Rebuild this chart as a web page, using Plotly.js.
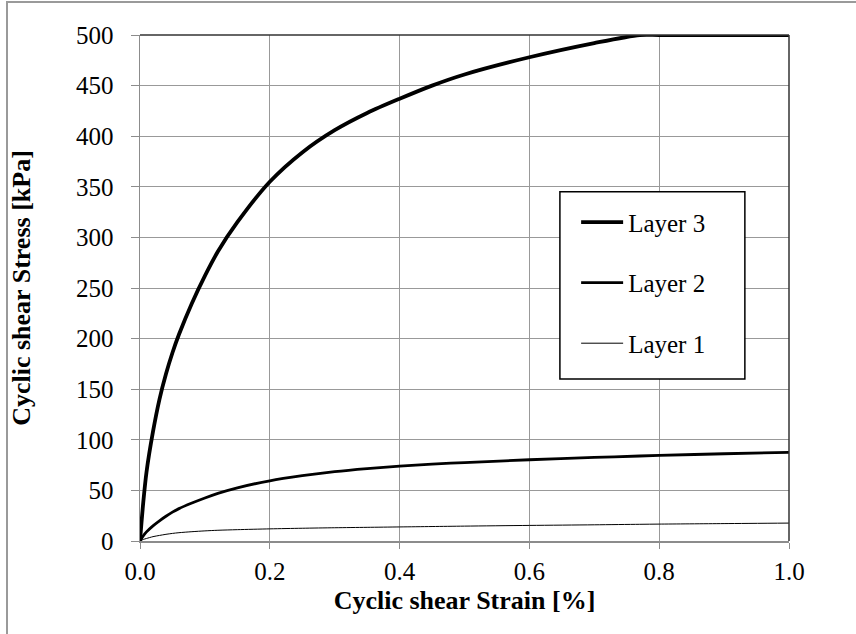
<!DOCTYPE html>
<html>
<head>
<meta charset="utf-8">
<script src="https://cdn.plot.ly/plotly-3.0.1.min.js"></script>
<style>
  html, body { margin: 0; padding: 0; background: #fff; }
  #wrap { position: relative; width: 856px; height: 634px; overflow: hidden; }
  #frame { position: absolute; left: 6px; top: 1px; width: 860px; height: 640px;
           border-left: 2px solid #9a9a9a; border-top: 2px solid #9a9a9a; box-sizing: border-box; pointer-events: none; z-index: 5; }
  #chart { position: absolute; left: 0; top: 0; width: 856px; height: 634px; }
</style>
</head>
<body>
<div id="wrap">
  <div id="chart"></div>
  <div id="frame"></div>
</div>
<script>
// Strain values [%]
const strain = [0, 0.005, 0.01, 0.02, 0.03, 0.04, 0.05, 0.06, 0.08, 0.1, 0.12, 0.15, 0.2, 0.25, 0.3, 0.35, 0.4, 0.45, 0.5, 0.6, 0.7, 0.77, 0.8, 0.9, 1.0];
// Stress values [kPa]
const layer3 = [0, 38, 68, 108, 140, 165, 186, 204, 235, 262, 286, 315, 355, 384, 406, 423, 437, 450, 461, 478, 492, 500, 500, 500, 500];
const layer2 = [0, 5, 9, 15, 20, 24.5, 28.5, 32, 37.5, 42.5, 47, 52.5, 59.5, 64.5, 68.5, 71.5, 74, 76, 77.5, 80.3, 82.6, 84, 84.6, 86.2, 87.6];
const layer1 = [0, 1.5, 2.5, 4.3, 5.5, 6.6, 7.5, 8.2, 9.2, 10, 10.6, 11.2, 12, 12.6, 13.1, 13.5, 13.9, 14.3, 14.7, 15.4, 16, 16.5, 16.7, 17.2, 17.7];
const seriesNames = ['Layer 3', 'Layer 2', 'Layer 1'];
const xTicks = [0, 0.2, 0.4, 0.6, 0.8, 1.0];
const xTickText = ['0.0', '0.2', '0.4', '0.6', '0.8', '1.0'];
const yTicks = [0, 50, 100, 150, 200, 250, 300, 350, 400, 450, 500];

const font = 'Liberation Serif, Times New Roman, serif';
const widths = [3.8, 2.8, 1];
const ys = [layer3, layer2, layer1];

const traces = ys.map((y, i) => ({
  x: strain, y: y, type: 'scatter', mode: 'lines',
  name: seriesNames[i], legendgroup: 'g' + i,
  line: { color: '#000', width: widths[i], shape: 'spline', smoothing: 0.8 },
  hoverinfo: 'skip'
}));

const layout = {
  width: 856, height: 634,
  margin: { l: 140, r: 67, t: 35, b: 93 },
  paper_bgcolor: '#fff', plot_bgcolor: '#fff',
  font: { family: font, size: 24, color: '#000' },
  showlegend: true,
  legend: {
    x: 0.672, y: 0.675, xanchor: 'left', yanchor: 'top',
    bgcolor: 'rgba(0,0,0,0)', borderwidth: 0,
    traceorder: 'grouped', tracegroupgap: 25,
    itemwidth: 42,
    font: { family: font, size: 25, color: '#000' }
  },
  xaxis: {
    range: [0, 1], tickvals: xTicks, ticktext: xTickText,
    showgrid: true, gridcolor: '#999', gridwidth: 1,
    showline: true, linecolor: '#8c8c8c', linewidth: 2,
    ticks: 'outside', ticklen: 6, tickcolor: '#8c8c8c', tickwidth: 1,
    ticklabelstandoff: 1,
    zeroline: false,
    tickfont: { family: font, size: 25, color: '#000' },
    title: { text: '<b>Cyclic shear Strain [%]</b>', font: { family: font, size: 26, color: '#000' }, standoff: 7 }
  },
  yaxis: {
    range: [0, 500], tickvals: yTicks,
    showgrid: true, gridcolor: '#999', gridwidth: 1,
    showline: true, linecolor: '#8c8c8c', linewidth: 1.5,
    ticks: 'outside', ticklen: 8, tickcolor: '#8c8c8c', tickwidth: 1,
    ticklabelstandoff: 12,
    zeroline: false,
    tickfont: { family: font, size: 25, color: '#000' },
    title: { text: '<b>Cyclic shear Stress [kPa]</b>', font: { family: font, size: 26, color: '#000' }, standoff: 38 }
  },
  shapes: [
    { type: 'line', xref: 'paper', yref: 'paper', x0: 0, x1: 1, y0: 1, y1: 1, line: { color: '#333', width: 1.5 }, layer: 'above' },
    { type: 'line', xref: 'paper', yref: 'paper', x0: 1, x1: 1, y0: 0, y1: 1, line: { color: '#333', width: 1.5 }, layer: 'above' },
    { type: 'rect', xref: 'paper', yref: 'paper', x0: 0.647, x1: 0.932, y0: 0.69, y1: 0.32, line: { color: '#000', width: 1.5 }, fillcolor: '#fff', layer: 'above' }
  ]
};

Plotly.newPlot('chart', traces, layout, { displayModeBar: false, staticPlot: true });
</script>
</body>
</html>
